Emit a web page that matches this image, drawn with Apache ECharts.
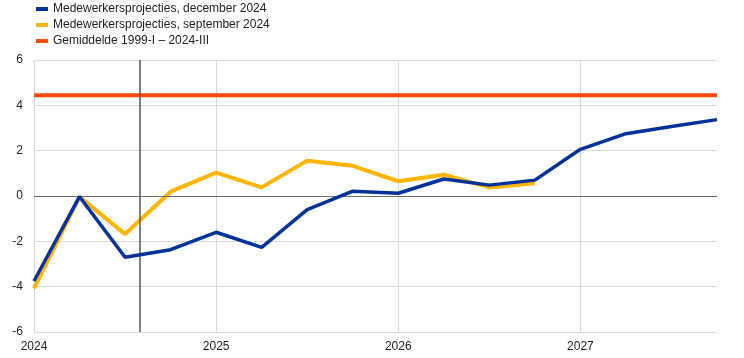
<!DOCTYPE html>
<html>
<head>
<meta charset="utf-8">
<script src="https://cdn.jsdelivr.net/npm/echarts@6/dist/echarts.min.js"></script>
<style>html,body{margin:0;padding:0;background:#fff}#c{width:744px;height:358px}</style>
</head>
<body>
<div id="c"></div>
<script>
var quarters = ['2024-I','2024-II','2024-III','2024-IV','2025-I','2025-II','2025-III','2025-IV','2026-I','2026-II','2026-III','2026-IV','2027-I','2027-II','2027-III','2027-IV'];
var yearLabels = ['2024','2025','2026','2027'];
var december2024 = [-3.75, -0.03, -2.7, -2.37, -1.6, -2.27, -0.6, 0.21, 0.12, 0.75, 0.48, 0.7, 2.06, 2.75, 3.07, 3.37];
var september2024 = [-4.08, -0.03, -1.68, 0.19, 1.03, 0.38, 1.56, 1.33, 0.65, 0.94, 0.38, 0.56];
var average19992024 = 4.45;
var cutoffIndex = 2.33;
var names = ['Medewerkersprojecties, december 2024','Medewerkersprojecties, september 2024','Gemiddelde 1999-I \u2013 2024-III'];

function pairs(arr){ return arr.map(function(v,i){ return [i, v]; }); }

var chart = echarts.init(document.getElementById('c'));
chart.setOption({
  animation: false,
  textStyle: { fontFamily: 'Liberation Sans, Arial, sans-serif' },
  legend: {
    orient: 'vertical', left: 36, top: 3, padding: 0, itemWidth: 12, itemHeight: 4, itemGap: 4,
    icon: 'rect',
    textStyle: { fontSize: 12, color: '#222' },
    data: [names[0], names[1], names[2]]
  },
  grid: { left: 34, right: 27, top: 60, bottom: 26, containLabel: false },
  xAxis: {
    type: 'value', min: 0, max: quarters.length - 1, interval: 4,
    axisLine: { show: false }, axisTick: { show: false },
    axisLabel: {
      color: '#222', fontSize: 12, margin: 9, showMaxLabel: false,
      formatter: function(v){ return (v % 4 === 0) ? yearLabels[v/4] : ''; }
    },
    splitLine: { show: true, showMaxLine: false, lineStyle: { color: '#d9d9d9', width: 1 } }
  },
  yAxis: {
    type: 'value', min: -6, max: 6, interval: 2,
    axisLine: { show: false }, axisTick: { show: false },
    axisLabel: { color: '#222', fontSize: 12, margin: 11 },
    splitLine: { lineStyle: { color: '#d9d9d9', width: 1 } }
  },
  series: [
    {
      name: names[2], type: 'line', symbol: 'none',
      data: [[0, average19992024], [quarters.length - 1, average19992024]],
      lineStyle: { color: '#ff4b00', width: 4 }, itemStyle: { color: '#ff4b00' },
      z: 3
    },
    {
      name: names[1], type: 'line', symbol: 'none', data: pairs(september2024),
      lineStyle: { color: '#ffb400', width: 4 }, itemStyle: { color: '#ffb400' },
      z: 4,
      markLine: {
        silent: true, symbol: 'none', label: { show: false },
        data: [
          { yAxis: 0, lineStyle: { color: '#6b6b6b', width: 1.2, type: 'solid' } },
          { xAxis: cutoffIndex, lineStyle: { color: '#555', width: 1.5, type: 'solid' } }
        ]
      }
    },
    {
      name: names[0], type: 'line', symbol: 'none', data: pairs(december2024),
      lineStyle: { color: '#003299', width: 3.5 }, itemStyle: { color: '#003299' },
      z: 5
    }
  ]
});
</script>
</body>
</html>
